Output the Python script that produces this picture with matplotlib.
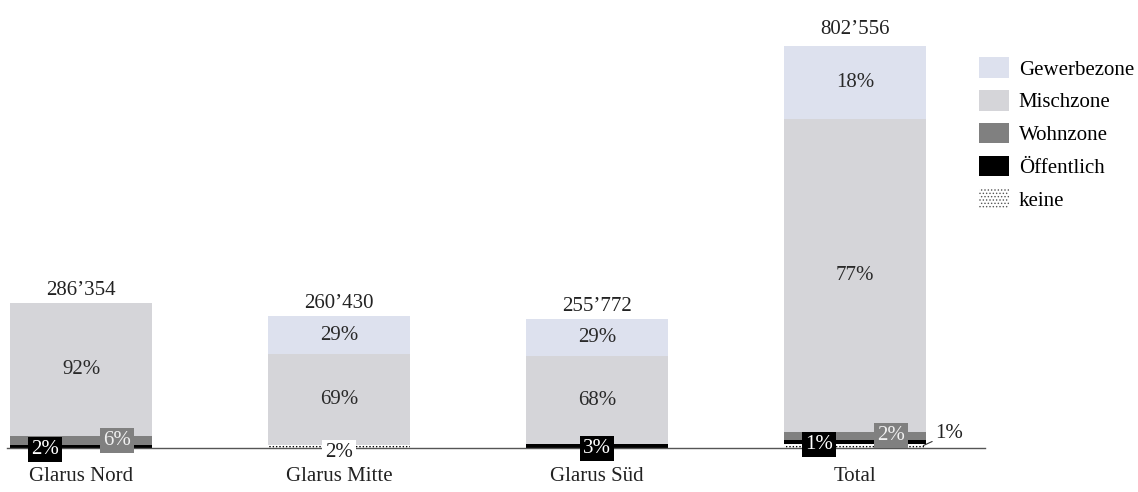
import numpy as np
import matplotlib.pyplot as plt
from matplotlib.patches import Patch

plt.rcParams['font.family'] = ['Liberation Serif', 'DejaVu Serif']
plt.rcParams['hatch.linewidth'] = 0.6

# data
regions = ['Glarus Nord', 'Glarus Mitte', 'Glarus Süd', 'Total']
totals = [286354, 260430, 255772, 802556]
zones = ['keine', 'Öffentlich', 'Wohnzone', 'Mischzone', 'Gewerbezone']
keine = [0, 2, 0, 1]
oeffentlich = [2, 0, 3, 1]
wohnzone = [6, 0, 0, 2]
mischzone = [92, 69, 68, 77]
gewerbezone = [0, 29, 29, 18]

shares = [keine, oeffentlich, wohnzone, mischzone, gewerbezone]
colors = ['white', 'black', '#808080', '#d5d5d9', '#dde1ee']
txt_colors = ['#222222', 'white', '#f0f0f0', '#2a2a2a', '#2a2a2a']

fig = plt.figure(figsize=(11.38, 4.92), dpi=100)
ax = fig.add_axes([7 / 1138, 44 / 492, 978 / 1138, 432.5 / 492])

x = np.arange(len(regions))
w = 0.55
bottom = np.zeros(len(regions))
for k, (zone, pct) in enumerate(zip(zones, shares)):
    vals = np.array(pct) / 100 * np.array(totals)
    if zone == 'keine':
        ax.bar(x, vals, w, bottom=bottom, color='white', edgecolor='black',
               hatch='.....', linewidth=0)
    else:
        ax.bar(x, vals, w, bottom=bottom, color=colors[k], linewidth=0)
    for i in range(len(regions)):
        p = pct[i]
        if p == 0:
            continue
        mid = bottom[i] + vals[i] / 2
        if p >= 10:
            ax.text(x[i], mid, f'{p}%', ha='center', va='center',
                    fontsize=15, color=txt_colors[k])
        elif regions[i] == 'Total' and zone == 'keine':
            # small share outside the bar with a leader line
            ax.annotate(f'{p}%', xy=(x[i] + w / 2 - 0.01, bottom[i] + vals[i] * 0.6),
                        xytext=(x[i] + w / 2 + 0.035, bottom[i] + vals[i] * 3.5),
                        ha='left', va='center', fontsize=15, color='#222222',
                        arrowprops=dict(arrowstyle='-', color='#333333', lw=0.8,
                                        shrinkA=0, shrinkB=0))
        else:
            if zone == 'Öffentlich':
                dx = -0.14 if regions[i] in ('Glarus Nord', 'Total') else 0
                dy = -2
            elif zone == 'Wohnzone':
                dx, dy = 0.14, 0
            else:
                dx, dy = 0, -4
            ax.annotate(f'{p}%', xy=(x[i] + dx, mid), xytext=(0, dy),
                        textcoords='offset points', ha='center', va='center',
                        fontsize=15, color=txt_colors[k],
                        bbox=dict(boxstyle='square,pad=0.14', fc=colors[k], ec='none'))
    bottom += vals

for i, t in enumerate(totals):
    ax.annotate(f'{t:,}'.replace(',', '\u2019'), xy=(x[i], t), xytext=(0, 2),
                textcoords='offset points', ha='center', va='bottom',
                fontsize=15, color='#222222')

ax.set_xlim(-0.287, 3.504)
ax.set_ylim(0, 855000)
ax.set_xticks(x)
ax.set_xticklabels(regions, fontsize=15, color='#222222')
ax.tick_params(axis='x', length=0, pad=14)
ax.set_yticks([])
for s in ['top', 'right', 'left']:
    ax.spines[s].set_visible(False)
ax.spines['bottom'].set_color('#555555')
ax.spines['bottom'].set_linewidth(1)

handles = [
    Patch(facecolor='#dde1ee', edgecolor='none', label='Gewerbezone'),
    Patch(facecolor='#d5d5d9', edgecolor='none', label='Mischzone'),
    Patch(facecolor='#808080', edgecolor='none', label='Wohnzone'),
    Patch(facecolor='black', edgecolor='none', label='Öffentlich'),
    Patch(facecolor='white', edgecolor='#555555', hatch='.....', linewidth=0, label='keine'),
]
fig.legend(handles=handles, loc='upper left', bbox_to_anchor=(975 / 1138, 1 - 53 / 492),
           frameon=False, fontsize=15, handlelength=1.45, handleheight=1.15,
           handletextpad=0.45, labelspacing=0.5, borderpad=0.2, borderaxespad=0)

fig.savefig('out.png', dpi=100, facecolor='white')
